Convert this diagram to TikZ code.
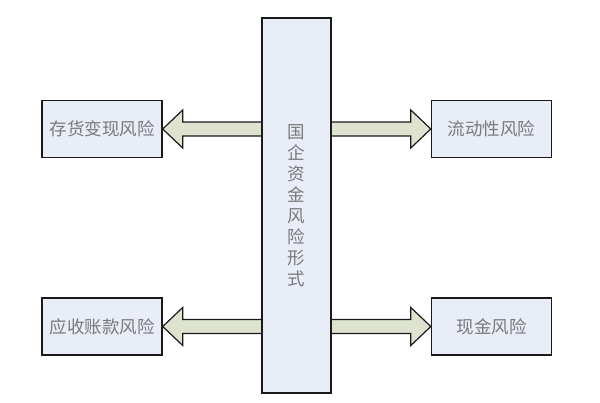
\documentclass[tikz,border=0pt]{standalone}
\usepackage{fontspec}
\newfontfamily\cjk{Noto Sans CJK SC}
\usetikzlibrary{calc}
\definecolor{boxfill}{HTML}{E8EDF8}
\definecolor{arrfill}{HTML}{DEE3CF}
\definecolor{txtgray}{HTML}{7A7A7A}
\definecolor{edgec}{HTML}{1A1A1A}
\tikzset{
  riskbox/.style={draw=edgec, line width=1.4pt, fill=boxfill, minimum width=120pt, minimum height=57pt, inner sep=0pt,
    font=\cjk\fontsize{17.5pt}{21pt}\selectfont, text=txtgray},
  centerbox/.style={draw=edgec, line width=1.4pt, fill=boxfill, minimum width=69pt, minimum height=375pt, inner sep=0pt,
    font=\cjk\fontsize{17.5pt}{21pt}\selectfont, text=txtgray, align=center},
  fatarrow/.style={draw=edgec, line width=1.2pt, fill=arrfill, line join=miter}
}
\begin{document}
\begin{tikzpicture}[x=1pt,y=-1pt]
\useasboundingbox (0,0) rectangle (600,402);
\fill[white] (0,0) rectangle (600,402);
\node[riskbox] (l1) at (102,129) {存货变现风险};
\node[riskbox] (l2) at (102,326.5) {应收账款风险};
\node[riskbox] (r1) at (491.5,129) {流动性风险};
\node[riskbox] (r2) at (491.5,326.5) {现金风险};
% arrows
\foreach \b in {l1,l2}{
  \draw[fatarrow] let \p1=(\b.east), \p2=(262,0) in
    (\x1,\y1) -- (\x1+20pt,\y1+19pt) -- (\x1+20pt,\y1+7pt) -- (\x2,\y1+7pt) -- (\x2,\y1-7pt)
    -- (\x1+20pt,\y1-7pt) -- (\x1+20pt,\y1-19pt) -- cycle;
}
\foreach \b in {r1,r2}{
  \draw[fatarrow] let \p1=(\b.west), \p2=(331,0) in
    (\x1,\y1) -- (\x1-20pt,\y1+19pt) -- (\x1-20pt,\y1+7pt) -- (\x2,\y1+7pt) -- (\x2,\y1-7pt)
    -- (\x1-20pt,\y1-7pt) -- (\x1-20pt,\y1-19pt) -- cycle;
}
\node[centerbox] (c) at (296.5,205.5) {国\\企\\资\\金\\风\\险\\形\\式};
\end{tikzpicture}
\end{document}
